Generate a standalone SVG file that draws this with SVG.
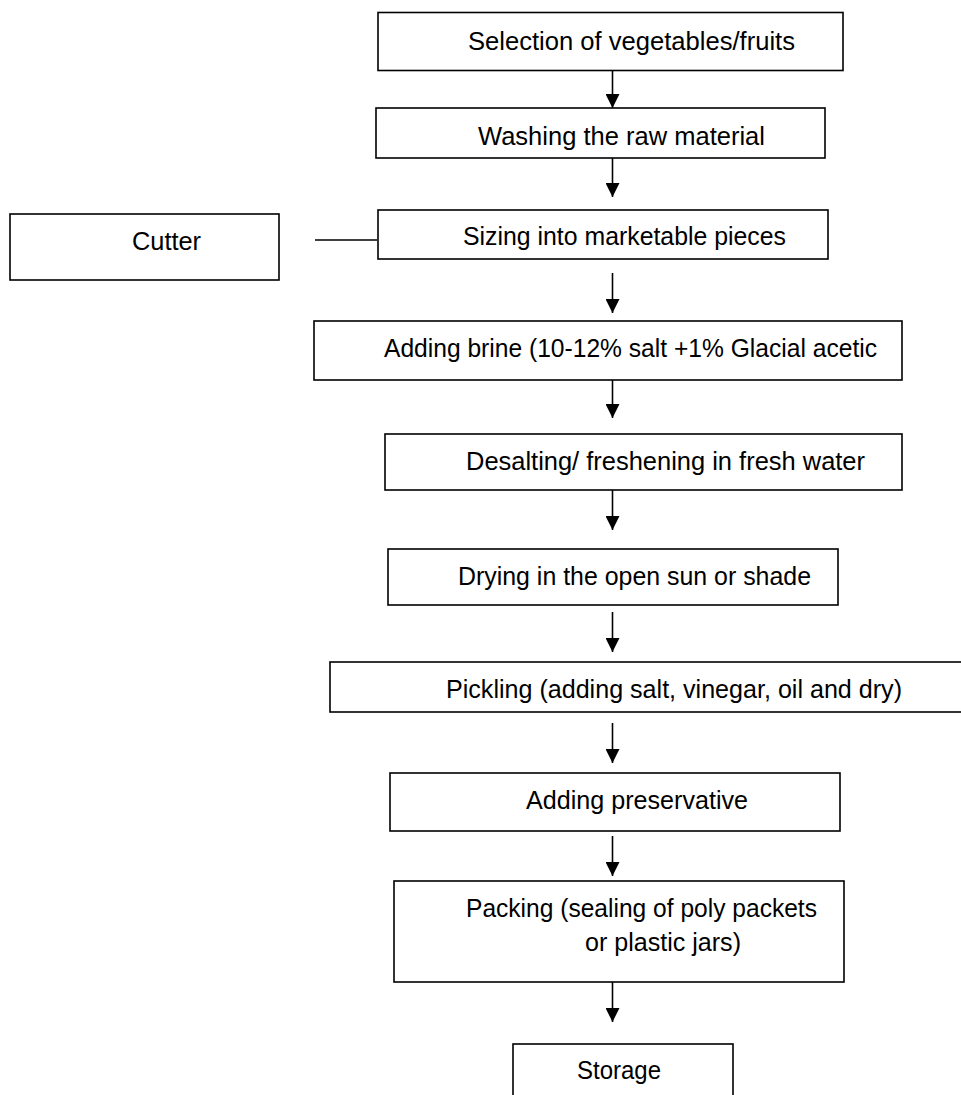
<svg xmlns="http://www.w3.org/2000/svg" width="961" height="1095" viewBox="0 0 961 1095">
<defs>
<style>
.box{fill:#fff;stroke:#000;stroke-width:1.6}
.t{font-family:"Liberation Sans",Arial,sans-serif;font-size:25px;fill:#000}
.c{stroke:#000;stroke-width:1.6;fill:none}
</style>
<marker id="ah" markerUnits="userSpaceOnUse" markerWidth="14" markerHeight="14" viewBox="0 0 14 14" refX="14" refY="7" orient="auto">
<path d="M0,0 L14,7 L0,14 z" fill="#000"/>
</marker>
</defs>
<rect width="961" height="1095" fill="#fff"/>
<g id="n1"><rect class="box" x="378" y="12.5" width="465" height="58"/><text class="t" x="468" y="50" textLength="327" lengthAdjust="spacingAndGlyphs">Selection of vegetables/fruits</text></g>
<g id="n2"><rect class="box" x="376" y="108" width="449" height="50"/><text class="t" x="478" y="145" textLength="287" lengthAdjust="spacingAndGlyphs">Washing the raw material</text></g>
<g id="n3"><rect class="box" x="378" y="210" width="450" height="49"/><text class="t" x="463" y="245" textLength="323" lengthAdjust="spacingAndGlyphs">Sizing into marketable pieces</text></g>
<g id="cutter"><rect class="box" x="10" y="214" width="269" height="66"/><text class="t" x="132" y="250" textLength="69" lengthAdjust="spacingAndGlyphs">Cutter</text></g>
<g id="n4"><rect class="box" x="314" y="321" width="588" height="59"/><text class="t" x="384" y="357" textLength="493" lengthAdjust="spacingAndGlyphs">Adding brine (10-12% salt +1% Glacial acetic</text></g>
<g id="n5"><rect class="box" x="385" y="434" width="517" height="56"/><text class="t" x="466" y="470" textLength="399" lengthAdjust="spacingAndGlyphs">Desalting/ freshening in fresh water</text></g>
<g id="n6"><rect class="box" x="388" y="549" width="450" height="56"/><text class="t" x="458" y="585" textLength="353" lengthAdjust="spacingAndGlyphs">Drying in the open sun or shade</text></g>
<g id="n7"><rect class="box" x="330" y="662" width="640" height="50"/><text class="t" x="446" y="698" textLength="456" lengthAdjust="spacingAndGlyphs">Pickling (adding salt, vinegar, oil and dry)</text></g>
<g id="n8"><rect class="box" x="390" y="773" width="450" height="58"/><text class="t" x="526" y="809" textLength="222" lengthAdjust="spacingAndGlyphs">Adding preservative</text></g>
<g id="n9"><rect class="box" x="394" y="881" width="450" height="101"/><text class="t" x="466" y="917" textLength="351" lengthAdjust="spacingAndGlyphs">Packing (sealing of poly packets</text><text class="t" x="585" y="951" textLength="156" lengthAdjust="spacingAndGlyphs">or plastic jars)</text></g>
<g id="n10"><rect class="box" x="513" y="1044" width="220" height="80"/><text class="t" x="577" y="1079" textLength="84" lengthAdjust="spacingAndGlyphs">Storage</text></g>
<g id="connectors">
<line class="c" x1="612.5" y1="70.5" x2="612.5" y2="108" marker-end="url(#ah)"/>
<line class="c" x1="612.5" y1="158" x2="612.5" y2="197" marker-end="url(#ah)"/>
<line class="c" x1="612.5" y1="273" x2="612.5" y2="313" marker-end="url(#ah)"/>
<line class="c" x1="612.5" y1="380" x2="612.5" y2="418" marker-end="url(#ah)"/>
<line class="c" x1="612.5" y1="490" x2="612.5" y2="530" marker-end="url(#ah)"/>
<line class="c" x1="612.5" y1="612" x2="612.5" y2="652" marker-end="url(#ah)"/>
<line class="c" x1="612.5" y1="723" x2="612.5" y2="763" marker-end="url(#ah)"/>
<line class="c" x1="612.5" y1="836" x2="612.5" y2="876" marker-end="url(#ah)"/>
<line class="c" x1="612.5" y1="982" x2="612.5" y2="1022" marker-end="url(#ah)"/>
<line class="c" x1="315" y1="240" x2="377" y2="240"/>
</g>
</svg>
